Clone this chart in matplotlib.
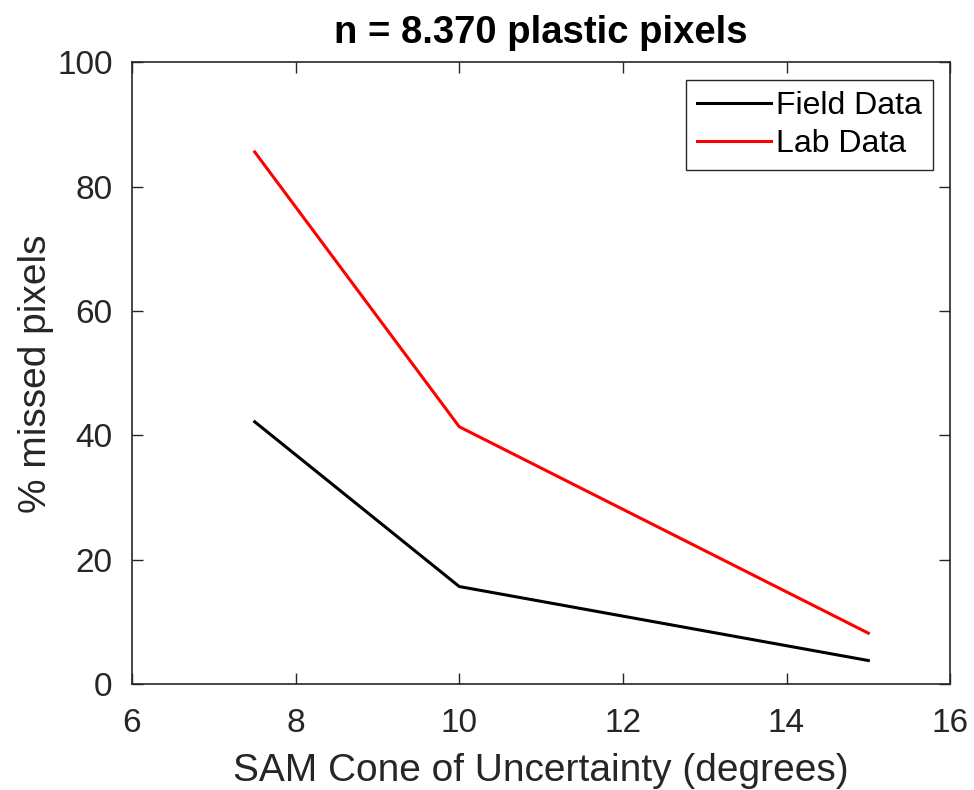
import matplotlib
matplotlib.use('Agg')
import matplotlib.pyplot as plt

# SAM cone of uncertainty (degrees)
cone_deg = [7.5, 10, 15]
field_missed = [42.2, 15.7, 3.8]
lab_missed = [85.6, 41.4, 8.2]

x_ticks = [6, 8, 10, 12, 14, 16]
y_ticks = [0, 20, 40, 60, 80, 100]

plt.rcParams['font.family'] = ['Liberation Sans', 'DejaVu Sans']
GRAY = '#262626'

fig = plt.figure(figsize=(9.74, 7.9), dpi=100)
ax = fig.add_axes([0.1355, 0.134, 0.84, 0.787])

ax.plot(cone_deg, field_missed, color='black', lw=2.2, label='Field Data')
ax.plot(cone_deg, lab_missed, color='red', lw=2.2, label='Lab Data')

ax.set_xlim(6, 16)
ax.set_ylim(0, 100)
ax.set_xticks(x_ticks)
ax.set_yticks(y_ticks)
ax.tick_params(direction='in', length=8, width=1, colors=GRAY,
               labelsize=24, top=True, right=True, pad=14)
ax.tick_params(axis='x', pad=17)
for s in ax.spines.values():
    s.set_color(GRAY)
    s.set_linewidth(1.2)

ax.set_xlabel('SAM Cone of Uncertainty (degrees)', fontsize=28, color=GRAY, labelpad=10)
ax.set_ylabel('% missed pixels', fontsize=28, color=GRAY, labelpad=2)
ax.set_title('n = 8.370 plastic pixels', fontsize=27.5, fontweight='bold', pad=14)

leg = ax.legend(loc='upper right', fontsize=23, fancybox=False, framealpha=1,
                edgecolor=GRAY, handlelength=2.3, handletextpad=0.15,
                borderaxespad=0.55, borderpad=0.35, labelspacing=0.25)
leg.get_frame().set_linewidth(1.0)

fig.savefig('out.png', dpi=100)
